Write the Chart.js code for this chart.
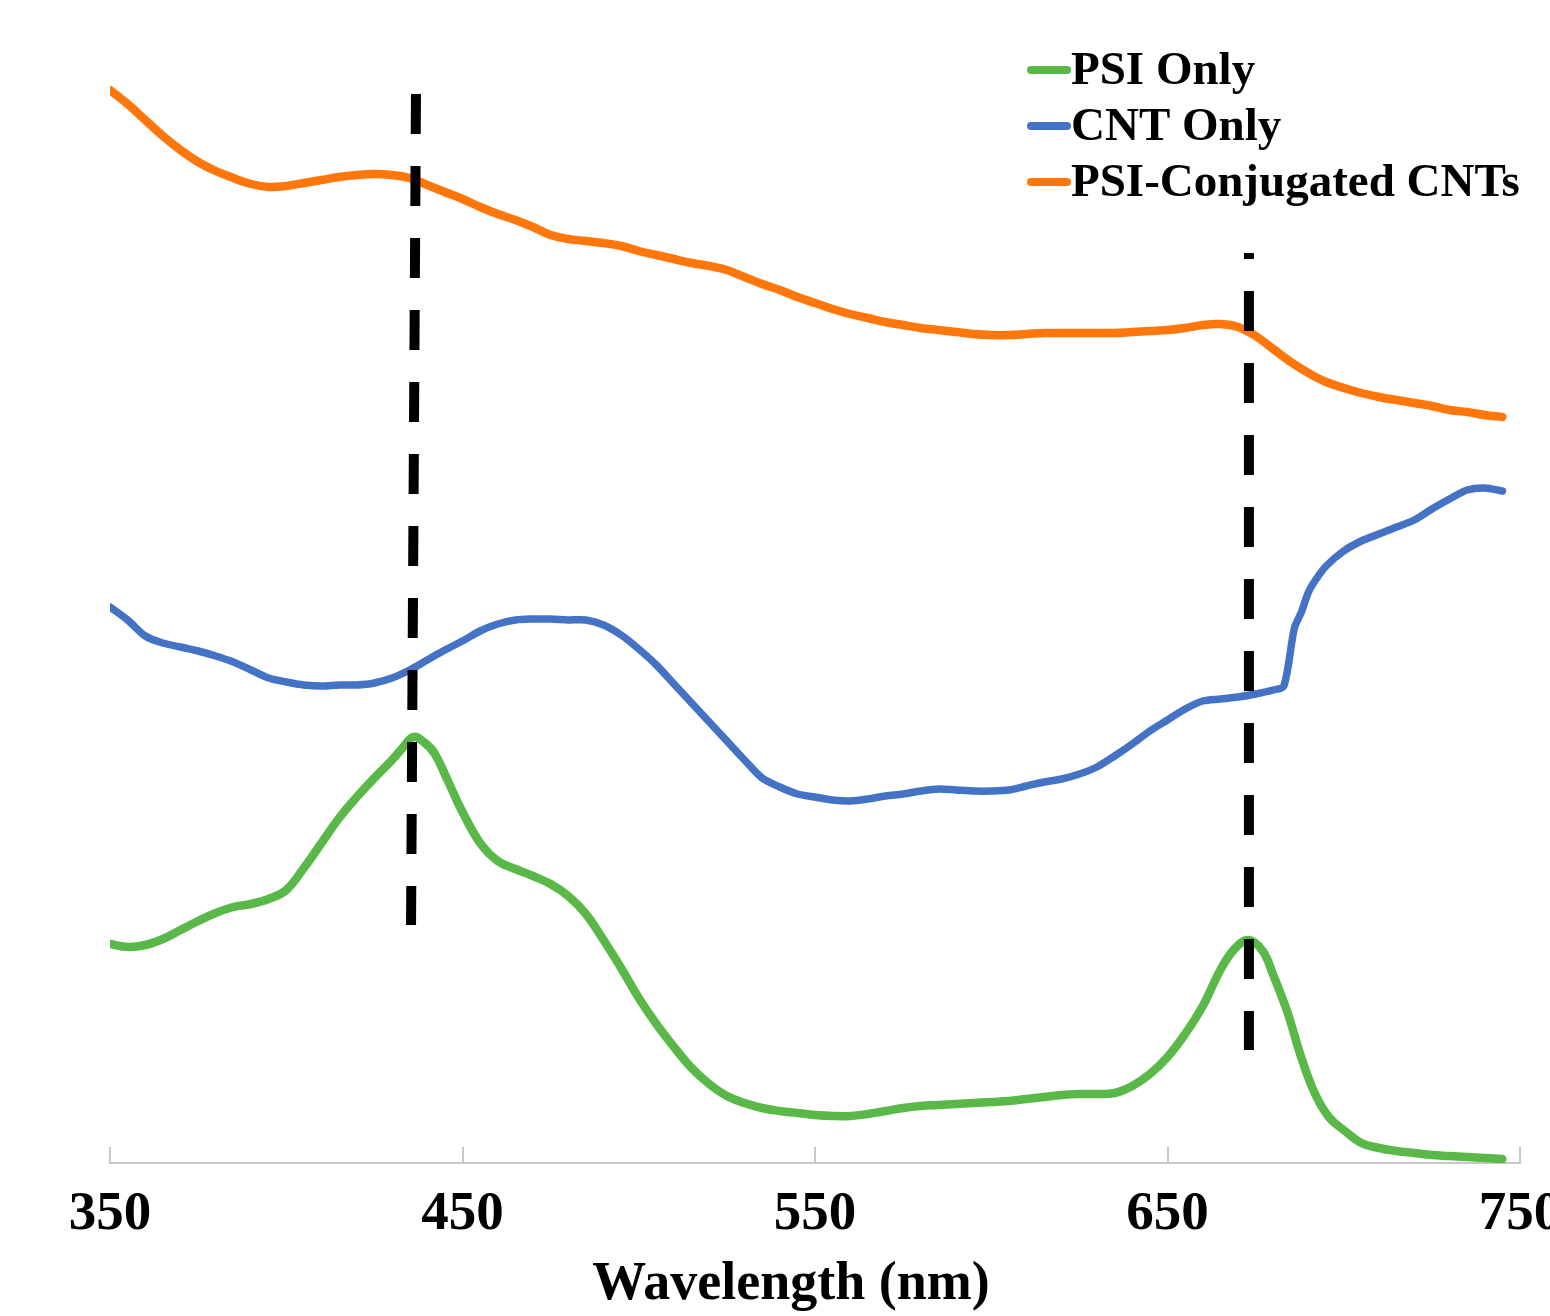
<!DOCTYPE html>
<html>
<head>
<meta charset="utf-8">
<script src="https://cdn.jsdelivr.net/npm/chart.js@4/dist/chart.umd.min.js"></script>
<style>
  html, body { margin: 0; padding: 0; background: #ffffff; }
  #wrap { width: 1550px; height: 1316px; position: relative; }
</style>
</head>
<body>
<div id="wrap"><canvas id="c"></canvas></div>
<script>
// ---------------- data ----------------
const seriesLabels = ['PSI Only', 'CNT Only', 'PSI-Conjugated CNTs'];
const seriesColors = ['#5AB848', '#4472C4', '#FF760A'];

const xTickValues = [350, 450, 550, 650, 750];
const xTickLabels = ['350', '450', '550', '650', '750'];
const xTitle = 'Wavelength (nm)';

// PSI-Conjugated CNTs (orange)
const conjWavelengths = [350,355,360,365,370,375,380,385,390,395,400,405,410,415,420,425,430,435,440,445,
  450,455,460,465,470,475,480,485,490,495,500,505,510,515,520,525,530,535,540,545,
  550,555,560,565,570,575,580,585,590,595,600,605,610,615,620,625,630,635,640,645,
  650,655,660,665,670,675,680,685,690,695,700,705,710,715,720,725,730,735,740,745];
const conjValues = [1.073,1.059,1.043,1.027,1.013,1.001,0.992,0.985,0.979,0.976,
  0.977,0.980,0.983,0.986,0.988,0.989,0.988,0.985,0.978,0.971,
  0.964,0.956,0.949,0.943,0.936,0.928,0.924,0.922,0.920,0.917,
  0.912,0.908,0.904,0.900,0.897,0.893,0.886,0.879,0.873,0.866,
  0.860,0.854,0.849,0.845,0.841,0.838,0.835,0.833,0.831,0.829,
  0.828,0.828,0.829,0.830,0.830,0.830,0.830,0.830,0.831,0.832,
  0.833,0.835,0.838,0.839,0.836,0.827,0.814,0.801,0.790,0.781,
  0.775,0.770,0.766,0.763,0.760,0.757,0.753,0.751,0.748,0.746];

// CNT Only (blue)
const cntWavelengths = [350,355,360,365,370,375,380,385,390,395,400,405,410,415,420,425,430,435,440,445,
  450,455,460,465,470,475,480,485,490,495,500,505,510,515,520,525,530,535,540,545,
  550,555,560,565,570,575,580,585,590,595,600,605,610,615,620,625,630,635,640,645,
  650,655,660,665,670,675,680,683,686,688,690,692,695,700,705,710,715,720,725,730,735,740,745];
const cntValues = [0.556,0.543,0.527,0.520,0.516,0.512,0.507,0.501,0.493,0.485,
  0.481,0.478,0.477,0.478,0.478,0.480,0.485,0.493,0.503,0.513,
  0.522,0.532,0.539,0.543,0.544,0.544,0.543,0.543,0.538,0.528,
  0.514,0.498,0.479,0.460,0.441,0.422,0.403,0.385,0.376,0.369,
  0.366,0.363,0.362,0.364,0.367,0.369,0.372,0.374,0.373,0.372,
  0.372,0.373,0.377,0.381,0.384,0.389,0.396,0.407,0.419,0.432,
  0.443,0.454,0.462,0.464,0.466,0.469,0.473,0.477,0.535,0.551,0.571,0.583,0.597,
  0.612,0.622,0.629,0.636,0.643,0.654,0.664,0.673,0.675,0.672];

// PSI Only (green)
const psiWavelengths = [350,355,360,365,370,375,380,385,390,395,400,405,410,415,420,425,430,
  433,436,439,442,446,450,
  455,460,465,470,475,480,485,490,495,500,505,510,515,520,525,530,535,540,545,
  550,555,560,565,570,575,580,585,590,595,600,605,610,615,620,625,630,635,640,645,650,655,660,
  665,669,673,677,680,684,688,692,696,700,705,710,715,720,725,730,735,740,745];
const psiValues = [0.219,0.216,0.218,0.224,0.233,0.242,0.250,0.256,0.259,0.264,0.273,0.295,0.320,0.345,0.366,0.385,0.403,
  0.415,0.426,0.421,0.410,0.381,0.351,
  0.320,0.302,0.294,0.287,0.279,0.267,0.249,0.223,0.195,0.165,0.139,0.116,0.095,0.079,0.067,0.060,0.055,0.052,0.050,
  0.048,0.047,0.047,0.049,0.052,0.055,0.057,0.058,0.059,0.060,0.061,0.062,0.064,0.066,0.068,0.069,0.069,0.070,0.077,0.089,0.106,0.129,0.157,
  0.193,0.214,0.223,0.212,0.188,0.151,0.105,0.068,0.045,0.033,0.020,0.015,0.012,0.010,0.008,0.007,0.006,0.005,0.004];

// Dashed marker lines (peak positions): top and bottom end of each
const marker1Wavelengths = [436.8, 435.4];
const marker1Values = [1.069, 0.238];
const marker2Wavelengths = [673.1, 673.1];
const marker2Values = [0.910, 0.113];

const yMin = 0, yMax = 1.163;
// -----------------------------------------------------------------------

const pts = (xs, ys) => xs.map((x, i) => ({ x: x, y: ys[i] }));
const FONT = "'Liberation Serif', 'Times New Roman', serif";

const curveStyle = {
  pointRadius: 0, pointHoverRadius: 0, borderWidth: 8.5, fill: false,
  tension: 0.4, borderJoinStyle: 'round', borderCapStyle: 'round'
};

const datasets = [
  { label: 'marker1', data: pts(marker1Wavelengths, marker1Values), borderColor: '#000000',
    borderWidth: 10, borderDash: [40, 32], borderDashOffset: 0, pointRadius: 0, tension: 0, order: 0, isMarker: true },
  { label: 'marker2', data: pts(marker2Wavelengths, marker2Values), borderColor: '#000000',
    borderWidth: 10, borderDash: [40, 32], borderDashOffset: 34, pointRadius: 0, tension: 0, order: 0, isMarker: true },
  Object.assign({}, curveStyle, { label: seriesLabels[0], data: pts(psiWavelengths, psiValues), borderColor: seriesColors[0], order: 3 }),
  Object.assign({}, curveStyle, { label: seriesLabels[1], data: pts(cntWavelengths, cntValues), borderColor: seriesColors[1], borderWidth: 7.5, tension: 0.3, order: 2 }),
  Object.assign({}, curveStyle, { label: seriesLabels[2], data: pts(conjWavelengths, conjValues), borderColor: seriesColors[2], order: 1 })
];

const decorPlugin = {
  id: 'decor',
  afterDraw(chart) {
    const ctx = chart.ctx;
    const xs = chart.scales.x;
    // upward tick marks on the x axis
    ctx.save();
    ctx.strokeStyle = '#c8c8c8';
    ctx.lineWidth = 2;
    xTickValues.forEach(v => {
      const px = Math.round(xs.getPixelForValue(v));
      ctx.beginPath();
      ctx.moveTo(px, xs.top);
      ctx.lineTo(px, xs.top - 16);
      ctx.stroke();
    });
    ctx.restore();

    // axis title
    ctx.save();
    ctx.fillStyle = '#000000';
    ctx.font = 'bold 54px ' + FONT;
    ctx.textAlign = 'center';
    ctx.textBaseline = 'alphabetic';
    ctx.fillText(xTitle, (xs.left + xs.right) / 2 - 24, xs.top + 136);
    ctx.restore();

    // legend (top right)
    ctx.save();
    const series = chart.data.datasets.filter(d => !d.isMarker).sort((a, b) => seriesLabels.indexOf(a.label) - seriesLabels.indexOf(b.label));
    const lx0 = 1031, lx1 = 1067, tx = 1071;
    const ys = [70, 126, 182];
    ctx.font = 'bold 47px ' + FONT;
    ctx.textAlign = 'left';
    ctx.textBaseline = 'middle';
    series.forEach((d, i) => {
      ctx.strokeStyle = d.borderColor;
      ctx.lineWidth = 8;
      ctx.lineCap = 'round';
      ctx.beginPath();
      ctx.moveTo(lx0, ys[i]);
      ctx.lineTo(lx1, ys[i]);
      ctx.stroke();
      ctx.fillStyle = '#000000';
      ctx.fillText(d.label, tx, ys[i] + 2);
    });
    ctx.restore();
  }
};

new Chart(document.getElementById('c'), {
  type: 'line',
  data: { datasets: datasets },
  options: {
    responsive: true,
    maintainAspectRatio: false,
    animation: false,
    events: [],
    layout: { padding: { left: 110, right: 30, top: 0, bottom: 0 } },
    plugins: { legend: { display: false }, tooltip: { enabled: false }, title: { display: false } },
    scales: {
      x: {
        type: 'linear',
        min: 350, max: 750,
        afterBuildTicks: (s) => { s.ticks = xTickValues.map(v => ({ value: v })); },
        afterFit: (s) => { s.height = 153; s.paddingLeft = 0; s.paddingRight = 0; },
        grid: { display: true, drawOnChartArea: false, drawTicks: false },
        border: { display: true, color: '#c8c8c8', width: 2 },
        ticks: {
          autoSkip: false, maxRotation: 0, minRotation: 0, padding: 19, color: '#000000',
          font: { family: FONT, weight: 'bold', size: 55, lineHeight: 1.2 },
          callback: (v) => xTickLabels[xTickValues.indexOf(v)]
        },
        title: { display: false }
      },
      y: {
        type: 'linear', min: yMin, max: yMax, display: false
      }
    }
  },
  plugins: [decorPlugin]
});
</script>
</body>
</html>
